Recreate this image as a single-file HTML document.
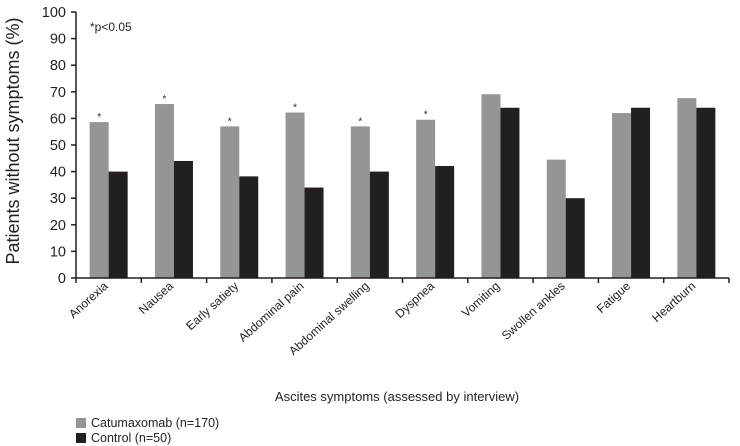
<!DOCTYPE html>
<html><head><meta charset="utf-8"><style>
body{margin:0;background:#fff;}
svg{display:block;font-family:"Liberation Sans",sans-serif;}
</style></head><body>
<svg id="chart" width="740" height="446">
<g id="g"></g>
</svg>
<script>
const categories=["Anorexia","Nausea","Early satiety","Abdominal pain","Abdominal swelling","Dyspnea","Vomiting","Swollen ankles","Fatigue","Heartburn"];
const catumaxomab=[58.6,65.4,57,62.2,57,59.5,69.1,44.5,62,67.6];
const control=[40,44,38.2,34,40,42.1,64,30,64,64];
const significant=[1,1,1,1,1,1,0,0,0,0];
const yTicks=[0,10,20,30,40,50,60,70,80,90,100];
const NS="http://www.w3.org/2000/svg";
const g=document.getElementById('g');
const x0=76,x1=729,y0=278,y1=12;
const bw=(x1-x0)/categories.length;
const y=v=>y0-(v/100)*(y0-y1);
function mk(t,a,txt){const e=document.createElementNS(NS,t);for(const k in a)e.setAttribute(k,a[k]);if(txt!=null)e.textContent=txt;g.appendChild(e);return e;}
categories.forEach((c,i)=>{
 const cx=x0+bw*(i+0.5);
 const b1=mk('rect',{x:cx-19,y:y(catumaxomab[i]),width:19,height:y0-y(catumaxomab[i]),fill:'#939598'});
 
 
 const b2=mk('rect',{x:cx,y:y(control[i]),width:19,height:y0-y(control[i]),fill:'#231f20'});
 
 
 if(significant[i]){const s=mk('text',{x:cx-9.5,y:y(catumaxomab[i])-2,'font-size':10,'text-anchor':'middle',fill:'#231f20'},'*');
 
 }
 const l=mk('text',{x:cx,y:287,'font-size':12,'text-anchor':'end',fill:'#231f20',transform:`rotate(-42 ${cx} 287)`},c);
 
 
});
for(let i=0;i<=categories.length;i++){const xx=x0+bw*i;mk('line',{x1:xx,x2:xx,y1:y0,y2:y0+5,stroke:'#231f20','stroke-width':1.5});}
yTicks.forEach(t=>{
 mk('line',{x1:x0-5,x2:x0,y1:y(t),y2:y(t),stroke:'#231f20','stroke-width':1.5});
 const tl=mk('text',{x:x0-10,y:y(t)+5,'font-size':14.5,'text-anchor':'end',fill:'#231f20'},t);
 
 
});
mk('line',{x1:x0,x2:x0,y1:y1,y2:y0,stroke:'#231f20','stroke-width':1.5});
mk('line',{x1:x0,x2:x1,y1:y0,y2:y0,stroke:'#231f20','stroke-width':1.5});
</script>
<svg style="position:absolute;left:0;top:0" width="740" height="446">
<text x="19" y="141" font-size="18" text-anchor="middle" fill="#231f20" transform="rotate(-90 19 141)" font-family="Liberation Sans,sans-serif">Patients without symptoms (%)</text>
<text x="90" y="31" font-size="12" fill="#231f20" font-family="Liberation Sans,sans-serif">*p&lt;0.05</text>
<text x="397" y="401" font-size="13" text-anchor="middle" fill="#231f20" font-family="Liberation Sans,sans-serif">Ascites symptoms (assessed by interview)</text>
<g font-family="Liberation Sans,sans-serif" font-size="12.5" fill="#231f20">
<rect x="76" y="418" width="10" height="10" fill="#939598"/>
<text x="91" y="427">Catumaxomab (n=170)</text>
<rect x="76" y="433" width="10" height="10" fill="#231f20"/>
<text x="91" y="442">Control (n=50)</text>
</g>
</svg>
</body></html>
